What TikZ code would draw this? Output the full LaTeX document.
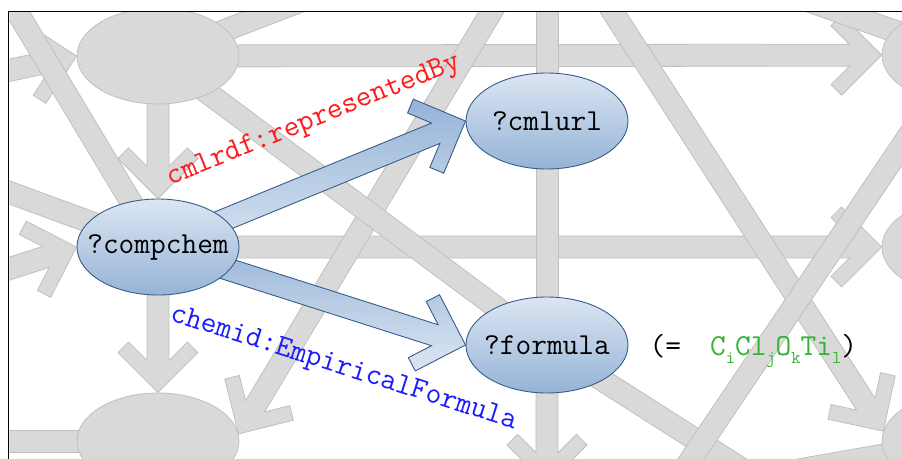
\documentclass[tikz,border=0pt]{standalone}
\usepackage{fontspec}
\usepackage{tikz}
\usetikzlibrary{positioning, shapes.geometric}

\definecolor{bggrey}{HTML}{D9D9D9}
\definecolor{bgline}{HTML}{C0C0C0}
\definecolor{nodeline}{HTML}{385D8A}
\definecolor{nodetop}{HTML}{DCE6F2}
\definecolor{nodebot}{HTML}{95B3D7}
\definecolor{predred}{HTML}{FF1A1A}
\definecolor{predblue}{HTML}{1A1AFF}
\definecolor{formulagreen}{HTML}{33B233}

\pgfdeclarelayer{greyback}
\pgfdeclarelayer{linkback}
\pgfsetlayers{greyback,linkback,main}

\newdimen\fadx
\newdimen\fady
\newcommand{\shaftw}{11}
\newcommand{\headlen}{40}
\newcommand{\headthick}{15}
\newcommand{\chemsub}[1]{\raisebox{-8pt}{\fontsize{18}{18}\selectfont #1}}

% segment from #1 to #2, node borders taken into account
\newcommand{\fatmeasure}[2]{%
  \path (#1) -- (#2) coordinate[pos=0] (fa-s) coordinate[pos=1] (fa-e);
  \pgfextractx{\fadx}{\pgfpointdiff{\pgfpointanchor{fa-s}{center}}{\pgfpointanchor{fa-e}{center}}}%
  \pgfextracty{\fady}{\pgfpointdiff{\pgfpointanchor{fa-s}{center}}{\pgfpointanchor{fa-e}{center}}}%
  \pgfmathsetmacro{\faang}{atan2(\fady,\fadx)}%
  \pgfmathsetmacro{\falen}{veclen(\fadx,\fady)}%
}
% wide band, no head
\newcommand{\fatband}[3][]{%
  \fatmeasure{#2}{#3}%
  \begin{scope}[shift={(fa-s)}, rotate=\faang]
    \path[#1] (0pt,\shaftw pt) -- (\falen pt,\shaftw pt) -- (\falen pt,-\shaftw pt) -- (0pt,-\shaftw pt) -- cycle;
  \end{scope}
}
% wide band with open chevron head
\newcommand{\fatarrow}[3][]{%
  \fatmeasure{#2}{#3}%
  \pgfmathsetmacro{\fapa}{\falen-1.4142*\headthick-\shaftw}%
  \pgfmathsetmacro{\fapb}{\falen-\headlen-0.7071*\headthick}%
  \pgfmathsetmacro{\fapc}{\headlen-0.7071*\headthick}%
  \pgfmathsetmacro{\fapd}{\falen-\headlen}%
  \begin{scope}[shift={(fa-s)}, rotate=\faang]
    \path[#1] (0pt,\shaftw pt) -- (\fapa pt,\shaftw pt) -- (\fapb pt,\fapc pt)
      -- (\fapd pt,\headlen pt) -- (\falen pt,0pt) -- (\fapd pt,-\headlen pt)
      -- (\fapb pt,-\fapc pt) -- (\fapa pt,-\shaftw pt) -- (0pt,-\shaftw pt) -- cycle;
  \end{scope}
}

\begin{document}
\begin{tikzpicture}[x=1pt, y=-1pt,
    varnode/.style={ellipse, draw=nodeline, line width=0.9pt, top color=nodetop, bottom color=nodebot,
      minimum width=162pt, minimum height=96pt, inner xsep=-30pt, inner ysep=-10pt,
      font=\ttfamily\fontsize{30.5}{34}\selectfont},
    ghostnode/.style={ellipse, draw=bgline, fill=bggrey, line width=0.8pt, minimum width=162pt, minimum height=96pt},
    ghostarrow/.style={draw=bgline, fill=bggrey, line width=0.8pt},
    linkarrow/.style={draw=nodeline, line width=0.9pt, top color=nodebot, bottom color=nodetop},
    predlabel/.style={font=\ttfamily\fontsize{30.5}{34}\selectfont, inner sep=0pt}]

  \useasboundingbox (0,0) rectangle (902,458);
  \begin{scope}
    \clip (9.3,12.3) rectangle (920,470);
    % background graph nodes
    \node[ghostnode] (tl) at (158,56) {};
    \node[ghostnode] (bl) at (158,441) {};
    \node[ghostnode] (tr) at (963,55) {};
    \node[ghostnode] (mr) at (963,247) {};
    \node[ghostnode] (br) at (963,441) {};
    % query variables
    \node[varnode] (cc) at (158,247) {?compchem};
    \node[varnode] (cu) at (547,121) {?cmlurl};
    \node[varnode] (fo) at (547,345) {?formula};
  \end{scope}
  % loose ends outside the frame
  \coordinate (topmid) at (547,-60);
  \coordinate (botmid) at (547,485);
  \coordinate (botdiag) at (800,506);
  \coordinate (topsteep) at (517,-31);
  \coordinate (topright) at (580,-39);
  \coordinate (botleft) at (660,505);
  \coordinate (botshallow) at (600,505);
  \coordinate (topout) at (400,-37);
  \coordinate (leftin) at (-60,85);
  \coordinate (corner) at (-8,-30);
  \coordinate (leftlow) at (-60,291);
  \coordinate (lefthigh) at (-60,167);
  \coordinate (leftbot) at (-60,441);
  \coordinate (topfar) at (720,-30);

  \begin{pgfonlayer}{greyback}
    \fill[white] (0,0) rectangle (902,458);
    \begin{scope}
      \clip (9.3,12.3) rectangle (920,470);
      % grey edges with heads
      \fatarrow[ghostarrow]{tl.center}{tr}
      \fatarrow[ghostarrow]{cc.center}{mr}
      \fatarrow[ghostarrow]{tl.center}{cc}
      \fatarrow[ghostarrow]{cc.center}{bl}
      \fatarrow[ghostarrow]{fo.center}{botmid}
      \fatarrow[ghostarrow]{topsteep}{bl.5}
      \fatarrow[ghostarrow]{topright}{br.173}
      \fatarrow[ghostarrow]{leftin}{tl.west}
      \fatarrow[ghostarrow]{leftlow}{cc.west}
      % grey edges without heads
      \fatband[ghostarrow]{topmid}{cu.center}
      \fatband[ghostarrow]{cu.center}{fo.center}
      \fatband[ghostarrow]{tl.center}{fo.center}
      \fatband[ghostarrow]{fo.center}{botdiag}
      \fatband[ghostarrow]{tr.center}{botleft}
      \fatband[ghostarrow]{botshallow}{br.center}
      \fatband[ghostarrow]{tl.center}{topout}
      \fatband[ghostarrow]{corner}{cc.center}
      \fatband[ghostarrow]{lefthigh}{cc.center}
      \fatband[ghostarrow]{leftbot}{bl.center}
      \fatband[ghostarrow]{topfar}{tr.center}
    \end{scope}
  \end{pgfonlayer}

  \begin{pgfonlayer}{linkback}
    % query triples
    \fatarrow[linkarrow]{cc.center}{cu.west}
    \fatarrow[linkarrow]{cc.center}{fo.west}
  \end{pgfonlayer}

  % predicates
  \node[predlabel, text=predred, rotate=22] (rep-label) at (314,121) {cmlrdf:representedBy};
  \node[predlabel, text=predblue, rotate=-17.5] (emp-label) at (344,369) {chemid:EmpiricalFormula};
  \node[predlabel, right=21pt of fo, anchor=base west, yshift=-10pt] (fo-value)
    {(=\hspace{29pt}{\color{formulagreen}C\chemsub{i}Cl\chemsub{j}O\chemsub{k}Ti\chemsub{l}})};

  % frame
  \draw[line width=1.6pt] (8.5,470) -- (8.5,11.5) -- (915,11.5);
\end{tikzpicture}
\end{document}
